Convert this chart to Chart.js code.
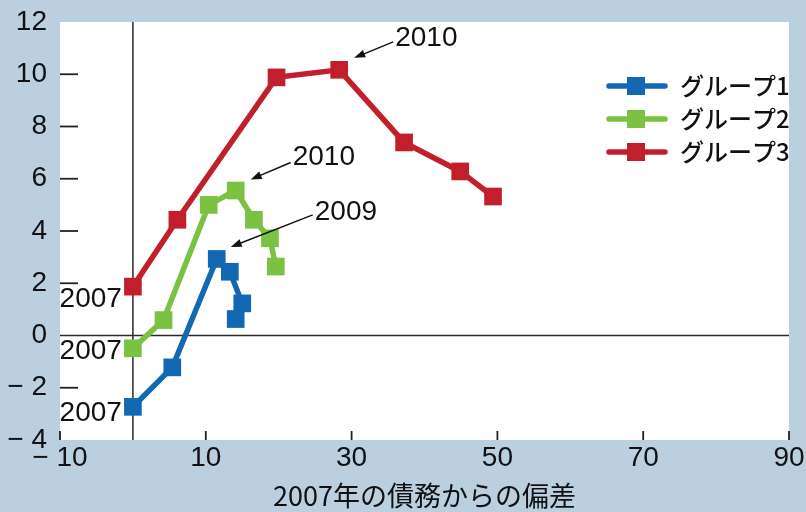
<!DOCTYPE html>
<html>
<head>
<meta charset="utf-8">
<script src="https://cdn.jsdelivr.net/npm/chart.js@4/dist/chart.umd.min.js"></script>
<style>
  html, body { margin: 0; padding: 0; background: #bad0de; }
</style>
</head>
<body>
<canvas id="grafico" width="806" height="512"></canvas>
<script>
// datos
const grupos = ['グループ1', 'グループ2', 'グループ3'];
const g1X = [0, 5.4, 11.5, 13.3, 15.0, 14.1];
const g1Y = [-2.73, -1.22, 2.93, 2.44, 1.23, 0.63];
const g2X = [0, 4.2, 10.4, 14.1, 16.6, 18.8, 19.6];
const g2Y = [-0.49, 0.59, 5.0, 5.55, 4.43, 3.72, 2.64];
const g3X = [0, 6.1, 19.7, 28.3, 37.2, 44.9, 49.4];
const g3Y = [1.87, 4.43, 9.88, 10.17, 7.39, 6.28, 5.32];
const xTicks = [-10, 10, 30, 50, 70, 90];
const yTicks = [-4, -2, 0, 2, 4, 6, 8, 10, 12];
const xTitle = '2007年の債務からの偏差';

const colores = ['#1268b3', '#7bc142', '#c21f2d'];
const fondo = '#bad0de';
const numFont = 'Liberation Sans';
const jpFont = '"Noto Sans CJK JP"';

// etiquetas de años: serie, punto, texto
const flechas = [
    { serie: 2, punto: 3, texto: '2010', head: [15, -12], tail: [54, -28], ty: -4 },
    { serie: 1, punto: 3, texto: '2010', head: [15, -11], tail: [55, -28], ty: -5 },
    { serie: 0, punto: 2, texto: '2009', head: [14, -12], tail: [96, -44], ty: -3 }
];
const etiquetas2007 = [
    { serie: 0, punto: 0, texto: '2007', dx: -11, dy: 6 },
    { serie: 1, punto: 0, texto: '2007', dx: -11, dy: 3 },
    { serie: 2, punto: 0, texto: '2007', dx: -11, dy: 13 }
];

function formato(v) {
    return v < 0 ? '\u2212 ' + Math.abs(v) : String(v);
}

const series = [[g1X, g1Y], [g2X, g2Y], [g3X, g3Y]];
const datasets = series.map(function (s, i) {
    return {
        label: grupos[i],
        data: s[0].map(function (x, j) { return { x: x, y: s[1][j] }; }),
        borderColor: colores[i],
        backgroundColor: colores[i],
        borderWidth: 5.5,
        pointStyle: 'rect',
        pointRadius: 12.5,
        pointHoverRadius: 12.5,
        pointBorderWidth: 0,
        showLine: true,
        tension: 0
    };
});

function flecha(ctx, x1, y1, x2, y2) {
    const ang = Math.atan2(y2 - y1, x2 - x1);
    ctx.beginPath();
    ctx.moveTo(x1, y1);
    ctx.lineTo(x2 - 6 * Math.cos(ang), y2 - 6 * Math.sin(ang));
    ctx.stroke();
    ctx.beginPath();
    ctx.moveTo(x2, y2);
    ctx.lineTo(x2 - 11 * Math.cos(ang) + 4 * Math.sin(ang), y2 - 11 * Math.sin(ang) - 4 * Math.cos(ang));
    ctx.lineTo(x2 - 11 * Math.cos(ang) - 4 * Math.sin(ang), y2 - 11 * Math.sin(ang) + 4 * Math.cos(ang));
    ctx.closePath();
    ctx.fill();
}

const pluginFondo = {
    id: 'fondo',
    beforeDraw: function (chart) {
        const ctx = chart.ctx, a = chart.chartArea;
        ctx.save();
        ctx.fillStyle = fondo;
        ctx.fillRect(0, 0, chart.width, chart.height);
        ctx.fillStyle = '#ffffff';
        ctx.fillRect(a.left, a.top, a.right - a.left, a.bottom - a.top);
        ctx.restore();
    },
    beforeDatasetsDraw: function (chart) {
        const ctx = chart.ctx, a = chart.chartArea;
        const sx = chart.scales.x, sy = chart.scales.y;
        ctx.save();
        ctx.strokeStyle = '#2a2a2a';
        ctx.lineWidth = 1.5;
        // ejes en cero
        const x0 = sx.getPixelForValue(0), y0 = sy.getPixelForValue(0);
        ctx.beginPath();
        ctx.moveTo(x0, a.top);
        ctx.lineTo(x0, a.bottom);
        ctx.moveTo(a.left, y0);
        ctx.lineTo(a.right, y0);
        ctx.stroke();
        ctx.restore();
    },
    afterDraw: function (chart) {
        const ctx = chart.ctx, a = chart.chartArea;
        const sx = chart.scales.x, sy = chart.scales.y;
        ctx.save();
        ctx.strokeStyle = '#222';
        ctx.lineWidth = 1.8;
        // marcas hacia dentro
        yTicks.forEach(function (v) {
            if (v === yTicks[0] || v === yTicks[yTicks.length - 1] || v === 0) return;
            const y = sy.getPixelForValue(v);
            ctx.beginPath();
            ctx.moveTo(a.left, y);
            ctx.lineTo(a.left + 18, y);
            ctx.stroke();
        });
        xTicks.forEach(function (v) {
            const x = sx.getPixelForValue(v);
            ctx.beginPath();
            ctx.moveTo(x, a.bottom);
            ctx.lineTo(x, a.bottom - 9);
            ctx.stroke();
        });

        ctx.strokeStyle = '#111';
        ctx.fillStyle = '#111';
        ctx.lineWidth = 1.4;
        ctx.font = '28px "' + numFont + '"';
        ctx.textBaseline = 'middle';
        flechas.forEach(function (f) {
            const p = chart.getDatasetMeta(f.serie).data[f.punto];
            const hx = p.x + f.head[0], hy = p.y + f.head[1];
            const tx = p.x + f.tail[0], ty = p.y + f.tail[1];
            flecha(ctx, tx, ty, hx, hy);
            ctx.textAlign = 'left';
            ctx.fillText(f.texto, tx + 2, ty + f.ty);
        });
        etiquetas2007.forEach(function (e) {
            const p = chart.getDatasetMeta(e.serie).data[e.punto];
            ctx.textAlign = 'right';
            ctx.fillText(e.texto, p.x + e.dx, p.y + e.dy);
        });

        // leyenda
        ctx.font = '500 24px ' + jpFont;
        ctx.textAlign = 'left';
        grupos.forEach(function (g, i) {
            const y = 86 + i * 33;
            ctx.strokeStyle = colores[i];
            ctx.fillStyle = colores[i];
            ctx.lineWidth = 5.5;
            ctx.lineCap = 'round';
            ctx.beginPath();
            ctx.moveTo(609, y);
            ctx.lineTo(665, y);
            ctx.stroke();
            ctx.fillRect(627, y - 9, 18, 18);
            ctx.fillStyle = '#111';
            ctx.fillText(g, 680, y);
        });
        ctx.restore();
    }
};

document.addEventListener('DOMContentLoaded', function () {
    let ctx = document.getElementById('grafico').getContext('2d');
    let grafico = new Chart(ctx, {
        type: 'scatter',
        data: { datasets: datasets },
        options: {
            responsive: false,
            animation: false,
            devicePixelRatio: 1,
            layout: { padding: { top: 22, right: 17, left: 0, bottom: 0 } },
            plugins: {
                legend: { display: false },
                tooltip: { enabled: false }
            },
            scales: {
                x: {
                    type: 'linear',
                    min: -10,
                    max: 90,
                    afterFit: function (s) {
                        s.height = 72;
                        s.paddingLeft = 0;
                        s.paddingRight = 0;
                    },
                    afterBuildTicks: function (s) { s.ticks = xTicks.map(function (v) { return { value: v }; }); },
                    grid: { display: false, drawTicks: false },
                    border: { display: false },
                    ticks: {
                        color: '#111',
                        font: { family: numFont, size: 28 },
                        padding: 1,
                        maxRotation: 0,
                        autoSkip: false,
                        callback: formato
                    },
                    title: {
                        display: true,
                        text: xTitle,
                        color: '#111',
                        font: { family: jpFont, size: 27 },
                        padding: { top: 0, bottom: 0 }
                    }
                },
                y: {
                    type: 'linear',
                    min: -4,
                    max: 12,
                    afterFit: function (s) {
                        s.width = 60;
                        s.paddingTop = 0;
                        s.paddingBottom = 0;
                    },
                    afterBuildTicks: function (s) { s.ticks = yTicks.map(function (v) { return { value: v }; }); },
                    grid: { display: false, drawTicks: false },
                    border: { display: false },
                    ticks: {
                        color: '#111',
                        font: { family: numFont, size: 28 },
                        padding: 13,
                        autoSkip: false,
                        callback: formato
                    }
                }
            }
        },
        plugins: [pluginFondo]
    });
});
</script>
</body>
</html>
